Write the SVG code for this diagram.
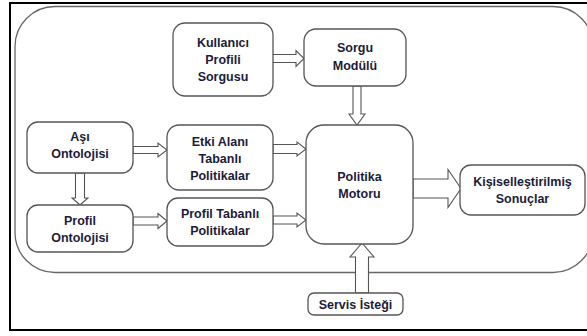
<svg xmlns="http://www.w3.org/2000/svg" width="587" height="336" viewBox="0 0 587 336">
<style>
.box{fill:#fff;stroke:#555;stroke-width:1.3}
.arr{fill:#fff;stroke:#555;stroke-width:1.1;stroke-linejoin:miter}
text{font-family:"Liberation Sans",Arial,sans-serif;font-weight:bold;font-size:12.5px;fill:#1c1c38;text-anchor:middle}
</style>
<rect x="0" y="0" width="587" height="336" fill="#fff"/>
<rect x="10" y="3" width="590" height="327" fill="none" stroke="#000" stroke-width="2"/>
<rect x="15" y="6.5" width="578" height="266" rx="40" ry="40" fill="none" stroke="#666" stroke-width="1.3"/>
<g id="connectors">
<polygon class="arr" points="272,54.5 296,54.5 296,50.5 304,58.5 296,66.5 296,62.5 272,62.5"/>
<polygon class="arr" points="353,86 361,86 361,114 365,114 357,125 349,114 353,114"/>
<polygon class="arr" points="133,146.5 158,146.5 158,143 167,150 158,157 158,153.5 133,153.5"/>
<polygon class="arr" points="75.5,173 84.5,173 84.5,198 88,198 80,205 72,198 75.5,198"/>
<polygon class="arr" points="133,217 158,217 158,213.5 167,221 158,228.5 158,225 133,225"/>
<polygon class="arr" points="273,144.5 297,144.5 297,142 306,149 297,156 297,153.5 273,153.5"/>
<polygon class="arr" points="273,216 297,216 297,213 306,220 297,227 297,224 273,224"/>
<polygon class="arr" points="413,179 448,179 448,169.5 461,188.5 448,207.5 448,198 413,198"/>
<polygon class="arr" points="355.5,293 355.5,257 350,257 362,243 374,257 368.5,257 368.5,293"/>
</g>
<g id="kullanici">
<rect class="box" x="173" y="23" width="100" height="73" rx="12"/>
<text x="223" y="46.5">Kullanıcı</text>
<text x="223" y="63.5">Profili</text>
<text x="223" y="80.5">Sorgusu</text>
</g>
<g id="sorgu">
<rect class="box" x="304" y="29" width="102" height="57" rx="12"/>
<text x="355" y="52">Sorgu</text>
<text x="355" y="69.5">Modülü</text>
</g>
<g id="asi">
<rect class="box" x="27" y="122" width="106" height="51" rx="11"/>
<text x="80" y="140.5">Aşı</text>
<text x="80" y="157.5">Ontolojisi</text>
</g>
<g id="etki">
<rect class="box" x="167" y="125" width="106" height="65" rx="12"/>
<text x="220" y="145.5">Etki Alanı</text>
<text x="220" y="162.5">Tabanlı</text>
<text x="220" y="179.5">Politikalar</text>
</g>
<g id="profilont">
<rect class="box" x="27" y="205" width="106" height="47" rx="11"/>
<text x="80" y="224.5">Profil</text>
<text x="80" y="241.5">Ontolojisi</text>
</g>
<g id="profiltab">
<rect class="box" x="167" y="198" width="106" height="48" rx="11"/>
<text x="220" y="217.5">Profil Tabanlı</text>
<text x="220" y="234.5">Politikalar</text>
</g>
<g id="politika">
<rect class="box" x="306" y="125" width="107" height="119" rx="18"/>
<text x="359.5" y="180.5">Politika</text>
<text x="359.5" y="197.5">Motoru</text>
</g>
<g id="kisisel">
<rect class="box" x="460" y="165" width="125" height="50" rx="11"/>
<text x="522.5" y="185.5">Kişiselleştirilmiş</text>
<text x="522.5" y="202.5">Sonuçlar</text>
</g>
<g id="servis">
<rect class="box" x="308" y="293" width="95" height="22" rx="6"/>
<text x="355.5" y="308.5">Servis İsteği</text>
</g>
</svg>
